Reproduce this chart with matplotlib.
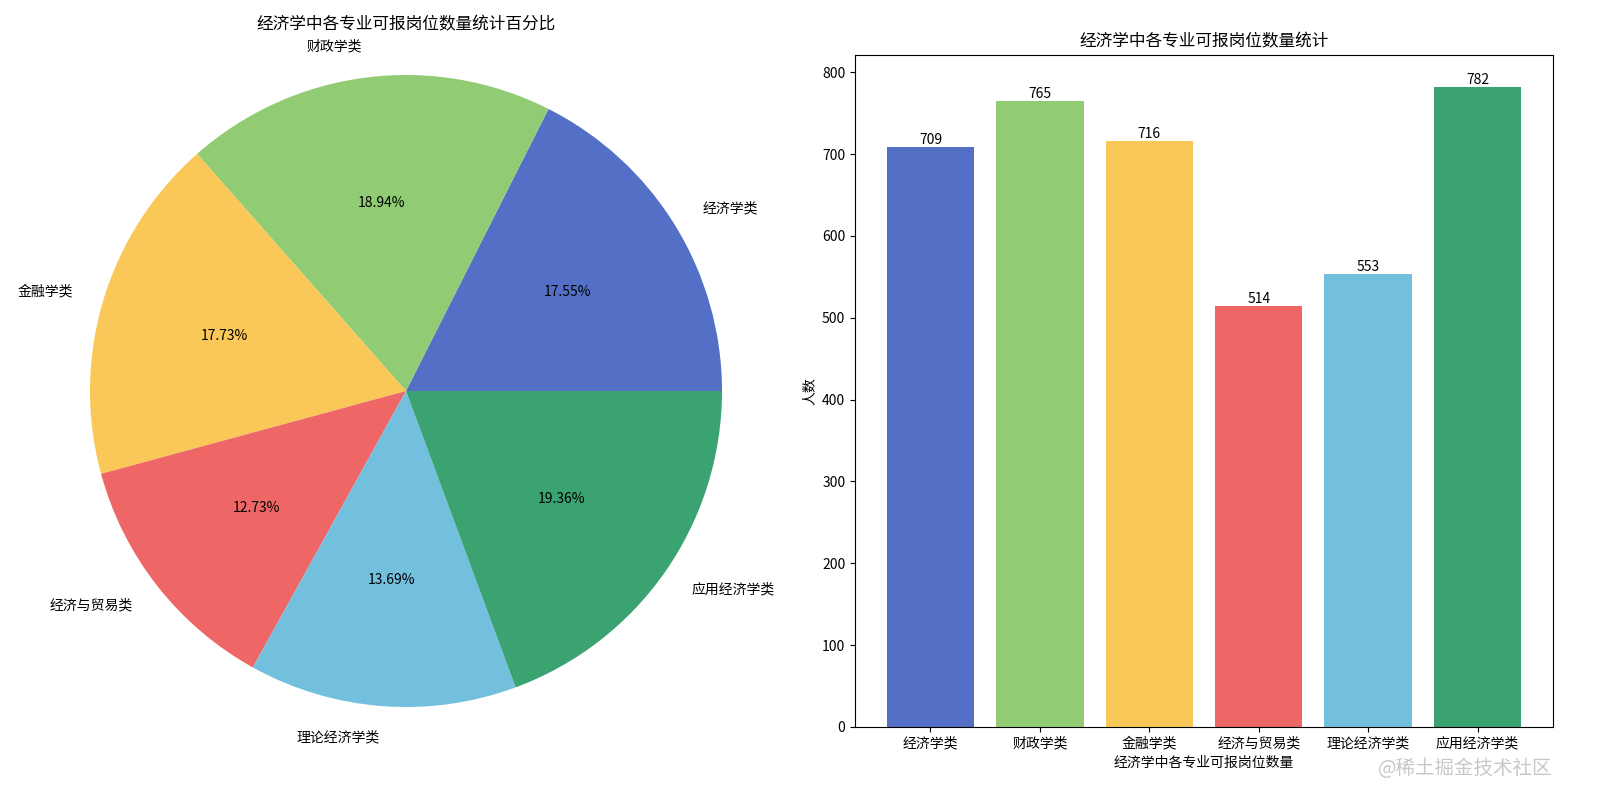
import matplotlib
matplotlib.use("Agg")
import matplotlib.pyplot as plt

plt.rcParams['font.family'] = ['Noto Sans CJK SC', 'DejaVu Sans']

majors = ['经济学类', '财政学类', '金融学类', '经济与贸易类', '理论经济学类', '应用经济学类']
counts = [709, 765, 716, 514, 553, 782]
colors = ['#5470c6', '#91cc75', '#fac858', '#ee6666', '#73c0de', '#3ba272']

fig = plt.figure(figsize=(16, 8), dpi=100)

# 饼图
ax1 = fig.add_axes([53 / 1600, 56 / 800, 706 / 1600, 706 / 800])
ax1.pie(counts, labels=majors, colors=colors, autopct='%.2f%%', startangle=0)
lim = 353 / 316
ax1.set_xlim(-lim, lim)
ax1.set_ylim(-lim, lim)
ax1.set_aspect('equal')
ax1.set_title('经济学中各专业可报岗位数量统计百分比')

# 柱状图
ax2 = fig.add_axes([855 / 1600, 73 / 800, 698 / 1600, 672 / 800])
bars = ax2.bar(majors, counts, color=colors)
ax2.bar_label(bars, fmt='%d')
ax2.set_title('经济学中各专业可报岗位数量统计')
ax2.set_xlabel('经济学中各专业可报岗位数量')
ax2.set_ylabel('人数')

fig.text(0.97, 0.04, '@稀土掘金技术社区', ha='right', va='center',
         fontsize=14, color='#c8c8c8')

fig.savefig('out.png', dpi=100)
